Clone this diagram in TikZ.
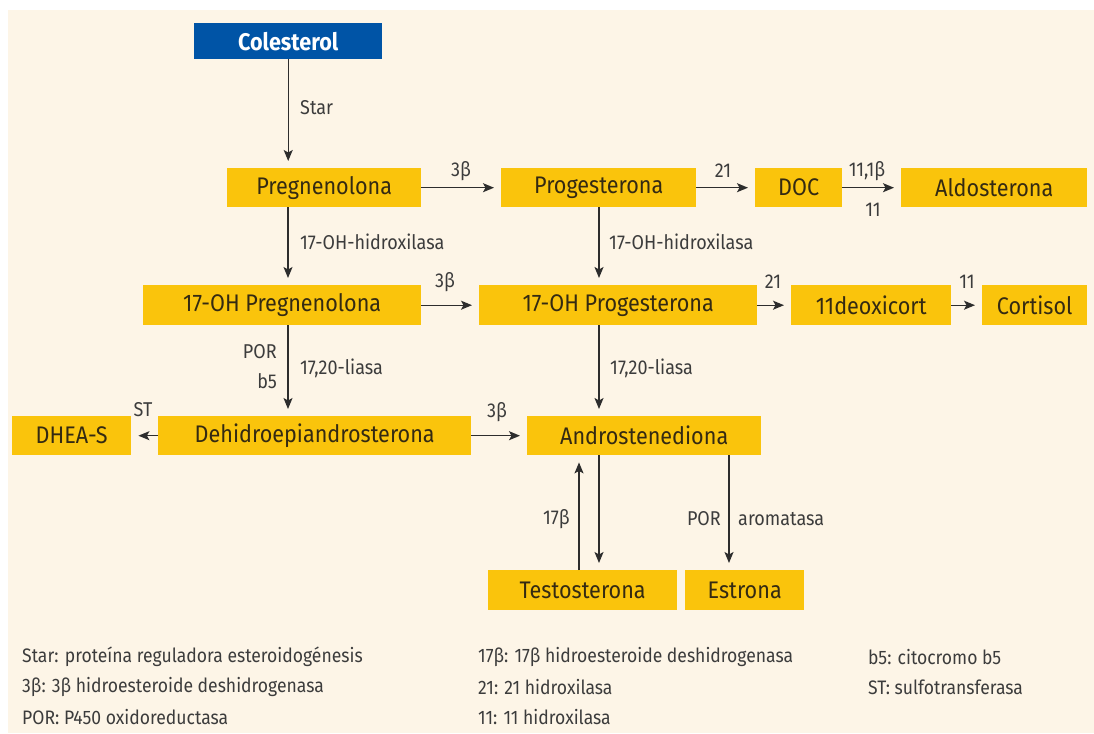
\documentclass[tikz,border=0pt]{standalone}
\usepackage{fontspec}
\setmainfont{Fira Sans}[FakeStretch=0.9]
\usetikzlibrary{arrows.meta}
\definecolor{bg}{RGB}{253,245,231}
\definecolor{gold}{RGB}{250,196,12}
\definecolor{navy}{RGB}{0,84,166}
\definecolor{boxtxt}{RGB}{52,42,18}
\definecolor{lbl}{RGB}{60,60,60}
\definecolor{arrc}{RGB}{45,45,45}
\begin{document}
\begin{tikzpicture}[x=1pt,y=-1pt,
  box/.style={fill=gold, text=boxtxt, anchor=north west, inner sep=0pt, font=\fontsize{24}{28}\selectfont},
  bluebox/.style={fill=navy, text=white, anchor=north west, inner sep=0pt, font=\fontsize{24}{28}\selectfont\bfseries},
  lab/.style={text=lbl, inner sep=0pt, font=\fontsize{20}{24}\selectfont},
  leg/.style={text=lbl, inner sep=0pt, anchor=west, font=\fontsize{19.5}{23}\selectfont},
  arr/.style={draw=arrc, line width=1.4pt, -{Stealth[length=11pt,width=9pt,inset=2.5pt]}, shorten >=7pt}]
\useasboundingbox (0,0) rectangle (1094,733);
\fill[white] (0,0) rectangle (1094,733);
\fill[bg] (8,10) rectangle (1094,733);
% boxes
\node[bluebox, minimum width=188pt, minimum height=36pt] (col) at (194,23) {Colesterol};
\node[box, minimum width=194pt, minimum height=39pt] (preg) at (227,168) {Pregnenolona};
\node[box, minimum width=195pt, minimum height=39pt] (prog) at (501,168) {Progesterona};
\node[box, minimum width=87pt, minimum height=39pt] (doc) at (755,168) {DOC};
\node[box, minimum width=186pt, minimum height=39pt] (aldo) at (901,168) {Aldosterona};
\node[box, minimum width=278pt, minimum height=40pt] (ohpreg) at (143,285) {17-OH Pregnenolona};
\node[box, minimum width=278pt, minimum height=40pt] (ohprog) at (479,285) {17-OH Progesterona};
\node[box, minimum width=160pt, minimum height=40pt] (deoxi) at (791,285) {11deoxicort};
\node[box, minimum width=105pt, minimum height=40pt] (cort) at (982,285) {Cortisol};
\node[box, minimum width=119pt, minimum height=39pt] (dheas) at (12,416) {DHEA-S};
\node[box, minimum width=313pt, minimum height=39pt] (dhea) at (158,416) {Dehidroepiandrosterona};
\node[box, minimum width=234pt, minimum height=39pt] (andro) at (527,416) {Androstenediona};
\node[box, minimum width=189pt, minimum height=40pt] (testo) at (488,570) {Testosterona};
\node[box, minimum width=119pt, minimum height=40pt] (estr) at (685,570) {Estrona};
% columns
\coordinate (cA) at (288,0);
\coordinate (cB) at (599,0);
\coordinate (cT) at (579,0);
\coordinate (cE) at (729,0);
% arrows
\draw[arr] (col.south) -- (col.south |- preg.north);
\draw[arr] (cA |- preg.south) -- (cA |- ohpreg.north);
\draw[arr] (cA |- ohpreg.south) -- (cA |- dhea.north);
\draw[arr] (preg.east) -- (prog.west);
\draw[arr] (prog.east) -- (doc.west);
\draw[arr] (doc.east) -- (aldo.west);
\draw[arr] (cB |- prog.south) -- (cB |- ohprog.north);
\draw[arr] (ohpreg.east) -- (ohprog.west);
\draw[arr] (ohprog.east) -- (deoxi.west);
\draw[arr] (deoxi.east) -- (cort.west);
\draw[arr] (cB |- ohprog.south) -- (cB |- andro.north);
\draw[arr] (dhea.west) -- (dheas.east);
\draw[arr] (dhea.east) -- (andro.west);
\draw[arr] (cB |- andro.south) -- (cB |- testo.north);
\draw[arr] (cT |- testo.north) -- (cT |- andro.south);
\draw[arr] (cE |- andro.south) -- (cE |- estr.north);
% labels
\node[lab, anchor=west] (lstar) at (300,108) {Star};
\node[lab] (l3a) at (461,171) {3β};
\node[lab] (l21a) at (723,171) {21};
\node[lab] (l111b) at (867,171) {11,1β};
\node[lab] (l11a) at (873,210) {11};
\node[lab, anchor=west] (lhx1) at (300,242) {17-OH-hidroxilasa};
\node[lab, anchor=west] (lhx2) at (609,242) {17-OH-hidroxilasa};
\node[lab] (l3b) at (445,282) {3β};
\node[lab] (l21b) at (773,282) {21};
\node[lab] (l11b) at (967,282) {11};
\node[lab, anchor=east] (lpor1) at (277,352) {POR};
\node[lab, anchor=east] (lb5) at (277,381) {b5};
\node[lab, anchor=west] (lli1) at (300,368) {17,20-liasa};
\node[lab, anchor=west] (lli2) at (610,368) {17,20-liasa};
\node[lab] (lst) at (143,410) {ST};
\node[lab] (l3c) at (497,412) {3β};
\node[lab, anchor=east] (l17b) at (570,519) {17β};
\node[lab, anchor=east] (lpor2) at (721,519) {POR};
\node[lab, anchor=west] (larom) at (738,519) {aromatasa};
% legend
\node[leg] (g1) at (22,657) {Star: proteína reguladora esteroidogénesis};
\node[leg] (g2) at (22,687) {3β: 3β hidroesteroide deshidrogenasa};
\node[leg] (g3) at (22,717) {POR: P450 oxidoreductasa};
\node[leg] (g4) at (478,657) {17β: 17β hidroesteroide deshidrogenasa};
\node[leg] (g5) at (478,687) {21: 21 hidroxilasa};
\node[leg] (g6) at (478,717) {11: 11 hidroxilasa};
\node[leg] (g7) at (868,657) {b5: citocromo b5};
\node[leg] (g8) at (868,687) {ST: sulfotransferasa};
\end{tikzpicture}
\end{document}
